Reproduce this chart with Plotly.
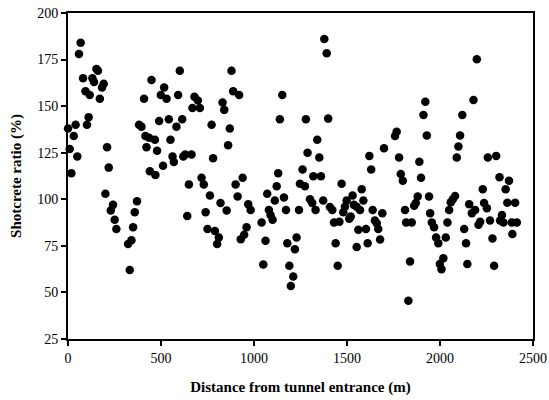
import plotly.graph_objects as go

distance_m = [0, 9, 18, 31, 41, 50, 59, 68, 81, 94, 102, 111, 117, 131, 140, 153, 161, 171, 183, 192,
              201, 210, 219, 230, 242, 251, 260, 323, 332, 341, 350, 359, 371, 382, 395, 409, 416, 422, 436, 440,
              449, 467, 470, 479, 490, 499, 511, 517, 530, 542, 551, 562, 569, 583, 592, 601, 614, 620, 630, 641,
              650, 664, 669, 680, 698, 709, 718, 730, 740, 750, 763, 772, 780, 790, 802, 811, 820, 831, 840, 853,
              861, 870, 879, 888, 901, 912, 920, 929, 939, 947, 960, 969, 982, 1041, 1050, 1062, 1071, 1080, 1089, 1100,
              1112, 1122, 1130, 1139, 1152, 1161, 1172, 1179, 1190, 1198, 1211, 1220, 1229, 1242, 1247, 1261, 1274, 1279, 1288, 1301,
              1313, 1319, 1331, 1340, 1351, 1360, 1372, 1378, 1391, 1399, 1408, 1421, 1430, 1439, 1450, 1459, 1471, 1480, 1489, 1498,
              1512, 1520, 1530, 1537, 1552, 1552, 1561, 1570, 1579, 1588, 1602, 1611, 1620, 1630, 1638, 1650, 1660, 1668, 1678, 1690,
              1699, 1758, 1767, 1780, 1789, 1800, 1812, 1818, 1830, 1839, 1848, 1861, 1870, 1880, 1889, 1898, 1911, 1921, 1929, 1941,
              1947, 1956, 1968, 1979, 1991, 1999, 2008, 2018, 2031, 2040, 2049, 2058, 2069, 2081, 2090, 2099, 2108, 2120, 2130, 2140,
              2147, 2157, 2171, 2180, 2189, 2198, 2207, 2216, 2230, 2237, 2252, 2257, 2269, 2282, 2291, 2302, 2320, 2323, 2333, 2341,
              2353, 2362, 2371, 2386, 2389, 2404, 2413]

shotcrete_ratio = [138, 127, 114, 134, 140, 123, 178, 184, 165, 158, 140, 144, 156, 165, 163, 170, 169, 154, 160, 162,
                   103, 128, 117, 94, 97, 89, 84, 76, 62, 78, 85, 93, 99, 140, 139, 154, 134, 128, 133, 115,
                   164, 132, 113, 126, 142, 156, 118, 160, 154, 143, 132, 123, 120, 139, 156, 169, 143, 123, 124, 91,
                   108, 124, 149, 155, 153, 149, 111.5, 108, 93, 84, 102, 140, 122, 83, 76, 79.5, 98, 152, 148, 94,
                   129, 138, 169, 158, 108, 101.5, 156, 78.6, 111.5, 81, 85, 97.4, 94.3, 87.5, 65, 77.7, 103, 94.3, 91.6, 89,
                   99.3, 107, 114, 143, 156, 101, 94.3, 76.4, 64.3, 53.5, 58.5, 73.2, 79.5, 94.3, 108.3, 116, 107, 143, 125, 100,
                   98, 112.4, 94.3, 132, 122.4, 112.4, 99.3, 186, 178.4, 143.3, 95.8, 94.3, 87.5, 76.4, 64.3, 88, 108.3, 93, 96, 99.3,
                   89.5, 90.7, 102, 97, 96, 74.4, 83.6, 94.3, 105.4, 99.3, 84, 76.4, 123.3, 116, 94.3, 88.6, 87.2, 84, 78.4, 92.5,
                   127.4, 134, 136.3, 122.4, 113.6, 110, 94.3, 87.5, 45.5, 66.6, 87.5, 96.5, 98, 101.5, 120.2, 111.5, 145.3, 152.4, 134.2, 101.5,
                   92.5, 87.5, 85, 79.5, 76.4, 65.3, 62.5, 68.4, 79.5, 87.5, 94.3, 98.4, 100, 101.8, 122.4, 128.3, 134.2, 145.3, 84, 76.4,
                   65.2, 97.4, 92.5, 153.3, 94.3, 175.2, 86.3, 88, 105.4, 98, 95.2, 122.4, 88.6, 79, 64.3, 123.3, 111.8, 88.6, 91.6, 87.5,
                   105.4, 98.2, 110, 87.5, 81.4, 98.2, 87.5]

x_ticks = [0, 500, 1000, 1500, 2000, 2500]
y_ticks = [25, 50, 75, 100, 125, 150, 175, 200]

font_family = "Liberation Serif"

fig = go.Figure(go.Scatter(
    x=distance_m, y=shotcrete_ratio, mode="markers",
    marker=dict(color="black", size=8.5, line=dict(width=0)),
    cliponaxis=False, showlegend=False,
))

fig.update_layout(
    width=549, height=400,
    margin=dict(l=68, r=16, t=13, b=61),
    paper_bgcolor="white", plot_bgcolor="white",
    font=dict(family=font_family, size=14, color="black"),
)
fig.update_xaxes(
    range=[0, 2500], tickvals=x_ticks, ticks="outside", ticklen=5, tickwidth=1.5, tickcolor="black",
    showgrid=False, zeroline=False, showline=True, linecolor="black", linewidth=2, mirror=True,
    title=dict(text="<b>Distance from tunnel entrance (m)</b>", font=dict(family=font_family, size=15), standoff=17),
    automargin=False,
)
fig.update_yaxes(
    range=[25, 200], tickvals=y_ticks, ticks="outside", ticklen=5, tickwidth=1.5, tickcolor="black",
    showgrid=False, zeroline=False, showline=True, linecolor="black", linewidth=2, mirror=True,
    title=dict(text="<b>Shotcrete ratio (%)</b>", font=dict(family=font_family, size=15), standoff=12),
    automargin=False,
)

fig.write_html("out.html")
